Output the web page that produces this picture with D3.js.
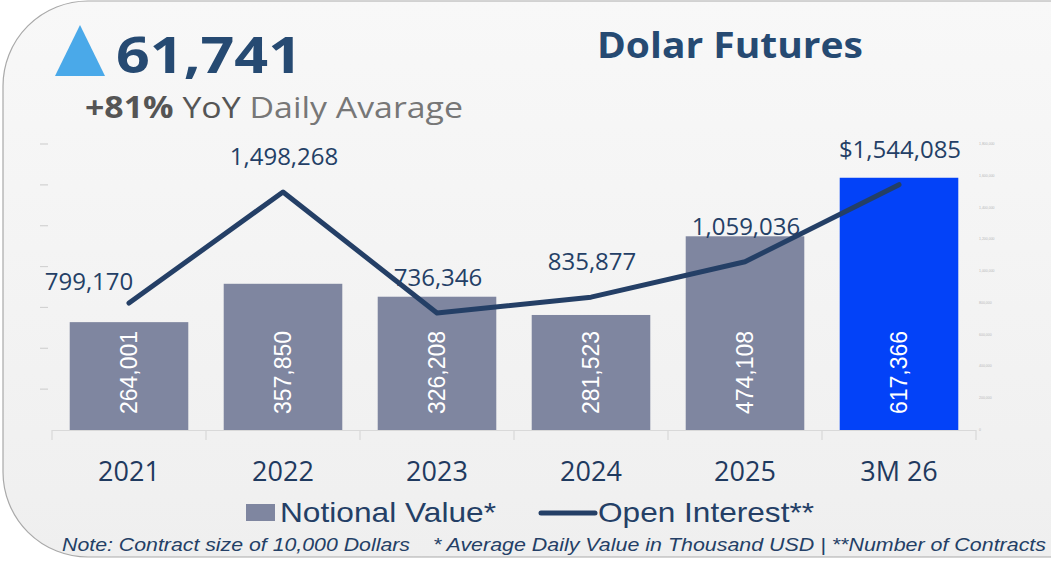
<html>
<head>
<meta charset="utf-8">
<style>
body { margin: 0; background: #ffffff; }
svg { display: block; }
.num-label { font-family: "Open Sans", "Noto Sans", sans-serif; font-size: 24px; fill: #243f66; }
.bar-label { font-family: "Liberation Sans", Arial, sans-serif; font-size: 23px; fill: #ffffff; }
.cat-label { font-family: "Open Sans", "Noto Sans", sans-serif; font-size: 27px; fill: #1f3a5f; }
.legend-text { font-family: "Liberation Sans Narrow", "Arial Narrow", "Liberation Sans", sans-serif; font-size: 28px; fill: #243f66; }
.note { font-family: "Liberation Sans Narrow", "Arial Narrow", "Liberation Sans", sans-serif; font-size: 19px; font-style: italic; fill: #243f66; }
</style>
</head>
<body>
<script src="https://cdn.jsdelivr.net/npm/d3@7"></script>
<script>

// data
var categories = ["2021", "2022", "2023", "2024", "2025", "3M 26"];
var notionalValue = [264001, 357850, 326208, 281523, 474108, 617366];
var openInterest = [799170, 1498268, 736346, 835877, 1059036, 1544085];
var leftTicks = [100000, 200000, 300000, 400000, 500000, 600000, 700000];
var rightTicks = [0, 200000, 400000, 600000, 800000, 1000000, 1200000, 1400000, 1600000, 1800000];

var width = 1051, height = 561;

var svg = d3.select("body").append("svg")
            .attr("width", width)
            .attr("height", height);

// panel background
var defs = svg.append("defs");
var grad = defs.append("linearGradient").attr("id", "bg").attr("x1", 0).attr("y1", 0).attr("x2", 0).attr("y2", 1);
grad.append("stop").attr("offset", "0%").attr("stop-color", "#f8f8f8");
grad.append("stop").attr("offset", "100%").attr("stop-color", "#efefef");

svg.append("rect")
   .attr("x", 3).attr("y", 1)
   .attr("width", 1200).attr("height", 556)
   .attr("rx", 85).attr("ry", 85)
   .attr("fill", "url(#bg)")
   .attr("stroke", "#a9a9a9")
   .attr("stroke-width", 1.2);

// scales
var x = d3.scaleBand()
          .domain(categories)
          .range([52, 976])
          .paddingInner(0.23)
          .paddingOuter(0.115);

var yLeft = d3.scaleLinear().domain([0, 700000]).range([430, 144]);
var yRight = d3.scaleLinear().domain([0, 1800000]).range([430, 144]);

var step = x.step();
function cx(d) { return x(d) + x.bandwidth() / 2; }

// left axis dashes (labels rendered too small to read in the original)
svg.append("g").selectAll("line")
   .data(leftTicks)
   .enter().append("line")
   .attr("x1", 40).attr("x2", 48)
   .attr("y1", function(d) { return yLeft(d); })
   .attr("y2", function(d) { return yLeft(d); })
   .attr("stroke", "#d2d2d2")
   .attr("stroke-width", 1.2);

// right axis tiny labels
svg.append("g").selectAll("text")
   .data(rightTicks)
   .enter().append("text")
   .attr("x", 979)
   .attr("y", function(d) { return yRight(d) + 1; })
   .attr("font-family", "Liberation Sans, sans-serif")
   .attr("font-size", 3.5)
   .attr("fill", "#b8b8b8")
   .text(function(d) { return d3.format(",")(d); });

// baseline and category ticks
var axisG = svg.append("g");
axisG.append("line")
     .attr("x1", 52).attr("x2", 976)
     .attr("y1", 430.5).attr("y2", 430.5)
     .attr("stroke", "#d9d9d9").attr("stroke-width", 1.2);
axisG.selectAll("line.tk")
     .data(d3.range(categories.length + 1))
     .enter().append("line")
     .attr("class", "tk")
     .attr("x1", function(i) { return 52 + i * step; })
     .attr("x2", function(i) { return 52 + i * step; })
     .attr("y1", 430).attr("y2", 440)
     .attr("stroke", "#d9d9d9").attr("stroke-width", 1.2);

// bars
var barG = svg.append("g");
barG.selectAll("rect")
    .data(categories)
    .enter().append("rect")
    .attr("x", function(d) { return x(d); })
    .attr("width", x.bandwidth())
    .attr("y", function(d, i) { return yLeft(notionalValue[i]); })
    .attr("height", function(d, i) { return 430 - yLeft(notionalValue[i]); })
    .attr("fill", function(d, i) { return i === categories.length - 1 ? "#0342f8" : "#7f86a0"; });

barG.selectAll("text")
    .data(categories)
    .enter().append("text")
    .attr("class", "bar-label")
    .attr("transform", function(d) { return "translate(" + (cx(d) + 8) + ",414) rotate(-90)"; })
    .attr("text-anchor", "start")
    .text(function(d, i) { return d3.format(",")(notionalValue[i]); });

// open interest line
var line = d3.line()
             .x(function(d, i) { return cx(categories[i]); })
             .y(function(d) { return yRight(d); });

svg.append("path")
   .attr("d", line(openInterest))
   .attr("fill", "none")
   .attr("stroke", "#243f66")
   .attr("stroke-width", 5)
   .attr("stroke-linecap", "round")
   .attr("stroke-linejoin", "round");

// line labels
var labelShift = { 0: [-40, -13] };
svg.append("g").selectAll("text")
   .data(openInterest)
   .enter().append("text")
   .attr("class", "num-label")
   .attr("text-anchor", "middle")
   .attr("x", function(d, i) { return cx(categories[i]) + (labelShift[i] ? labelShift[i][0] : 1); })
   .attr("y", function(d, i) { return yRight(d) + (labelShift[i] ? labelShift[i][1] : -27); })
   .text(function(d, i) { return (i === openInterest.length - 1 ? "$" : "") + d3.format(",")(d); });

// category labels
svg.append("g").selectAll("text")
   .data(categories)
   .enter().append("text")
   .attr("class", "cat-label")
   .attr("text-anchor", "middle")
   .attr("x", function(d) { return cx(d); })
   .attr("y", 481)
   .text(function(d) { return d; });

// header
svg.append("path")
   .attr("d", "M55,76 L80,25 L105,76 Z")
   .attr("fill", "#4aa9e9");

svg.append("text")
   .attr("x", 116).attr("y", 73)
   .attr("font-family", "Open Sans, Noto Sans, sans-serif")
   .attr("font-weight", "bold")
   .attr("font-size", 50)
   .attr("fill", "#264a72")
   .attr("textLength", 186)
   .attr("lengthAdjust", "spacingAndGlyphs")
   .text("61,741");

var sub = svg.append("text")
   .attr("x", 85).attr("y", 118)
   .attr("font-family", "Open Sans, Noto Sans, sans-serif")
   .attr("font-size", 30)
   .attr("textLength", 378)
   .attr("lengthAdjust", "spacingAndGlyphs");
sub.append("tspan").attr("font-weight", "bold").attr("fill", "#555555").text("+81%");
sub.append("tspan").attr("fill", "#555555").text(" YoY");
sub.append("tspan").attr("fill", "#777777").text(" Daily Avarage");

svg.append("text")
   .attr("x", 597).attr("y", 58)
   .attr("font-family", "Open Sans, Noto Sans, sans-serif")
   .attr("font-weight", "bold")
   .attr("font-size", 36)
   .attr("fill", "#264a72")
   .attr("textLength", 266)
   .attr("lengthAdjust", "spacingAndGlyphs")
   .text("Dolar Futures");

// legend
svg.append("rect")
   .attr("x", 246).attr("y", 504)
   .attr("width", 29).attr("height", 17)
   .attr("fill", "#7f86a0");
svg.append("text")
   .attr("class", "legend-text")
   .attr("x", 280).attr("y", 522)
   .attr("textLength", 216)
   .attr("lengthAdjust", "spacingAndGlyphs")
   .text("Notional Value*");
svg.append("line")
   .attr("x1", 541).attr("x2", 595)
   .attr("y1", 513).attr("y2", 513)
   .attr("stroke", "#243f66")
   .attr("stroke-width", 5)
   .attr("stroke-linecap", "round");
svg.append("text")
   .attr("class", "legend-text")
   .attr("x", 598).attr("y", 522)
   .attr("textLength", 216)
   .attr("lengthAdjust", "spacingAndGlyphs")
   .text("Open Interest**");

// notes
svg.append("text")
   .attr("class", "note")
   .attr("x", 62).attr("y", 551)
   .attr("textLength", 348)
   .attr("lengthAdjust", "spacingAndGlyphs")
   .text("Note: Contract size of 10,000 Dollars");
svg.append("text")
   .attr("class", "note")
   .attr("x", 433).attr("y", 551)
   .attr("textLength", 613)
   .attr("lengthAdjust", "spacingAndGlyphs")
   .text("* Average Daily Value in Thousand USD | **Number of Contracts");

</script>
</body>
</html>
